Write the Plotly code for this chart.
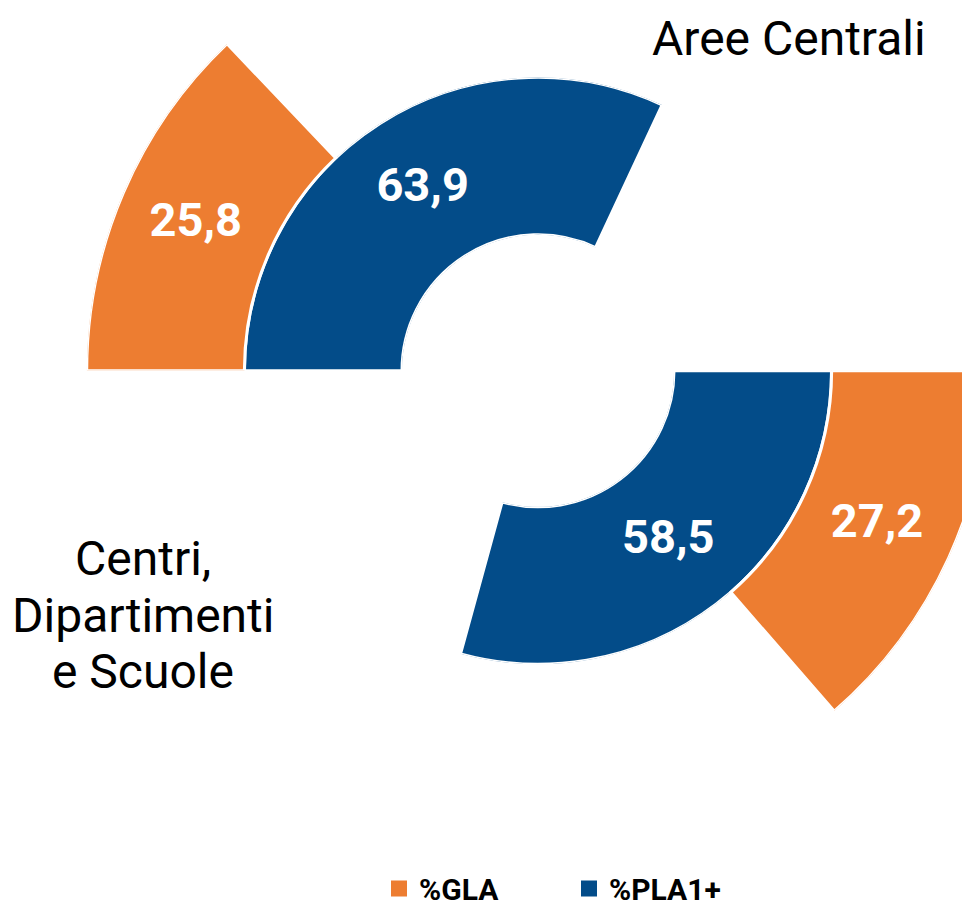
import plotly.graph_objects as go

# ---- data ----
group_title_top = "Aree Centrali"
group_title_bottom = ["Centri,", "Dipartimenti", "e Scuole"]
gla_values = [25.8, 27.2]      # %GLA (orange, outer ring): [Aree Centrali, Centri/Dip./Scuole]
pla_values = [63.9, 58.5]      # %PLA1+ (blue, inner ring)
gla_labels = ["25,8", "27,2"]
pla_labels = ["63,9", "58,5"]
series_names = ["%GLA", "%PLA1+"]

# ---- scale: each group is a half circle = 100 % ----
DEG_PER_PCT = 180.0 / 100.0
group_start = [0.0, 180.0]     # start angle of each group (clockwise from 9 o'clock)

ORANGE = "#ED7D31"
BLUE = "#034C89"
FONT = "Roboto"
LINE = dict(color="white", width=3)

def span(v):
    return v * DEG_PER_PCT

def center(g, v):
    return group_start[g] + span(v) / 2

# ---- geometry (figure pixels) ----
W, H = 1000, 899
cx, cy = 530.0, 362.8
R_HOLE, R_BLUE, R_ORANGE = 136.0, 293.5, 451.3
SIN130 = 0.766044

def dom(x0, x1, y0, y1):
    return dict(x=[x0 / W, x1 / W], y=[1 - y1 / H, 1 - y0 / H])

ang = dict(rotation=180, direction="clockwise", visible=False, showgrid=False)

fig = go.Figure()

# blue ring, both groups
fig.add_trace(go.Barpolar(
    subplot="polar", name=series_names[1], showlegend=False,
    theta=[center(0, pla_values[0]), center(1, pla_values[1])],
    width=[span(pla_values[0]), span(pla_values[1])],
    r=[1, 1], base=[0, 0],
    marker=dict(color=BLUE, line=LINE), hoverinfo="skip",
))
fig.add_trace(go.Scatterpolar(
    subplot="polar", mode="text", showlegend=False, hoverinfo="skip",
    theta=[center(0, pla_values[0]), center(1, pla_values[1])], r=[0.5, 0.5],
    text=pla_labels,
    textfont=dict(family=FONT, size=47, color="white", weight="bold"),
))
# orange ring, Aree Centrali
fig.add_trace(go.Barpolar(
    subplot="polar2", name=series_names[0], showlegend=False,
    theta=[center(0, gla_values[0])], width=[span(gla_values[0])],
    r=[1], base=[1],
    marker=dict(color=ORANGE, line=LINE), hoverinfo="skip",
))
fig.add_trace(go.Scatterpolar(
    subplot="polar2", mode="text", showlegend=False, hoverinfo="skip",
    theta=[center(0, gla_values[0])], r=[1.5], text=[gla_labels[0]],
    textfont=dict(family=FONT, size=47, color="white", weight="bold"),
))
# orange ring, Centri / Dipartimenti / Scuole
fig.add_trace(go.Barpolar(
    subplot="polar3", name=series_names[0], showlegend=False,
    theta=[center(1, gla_values[1])], width=[span(gla_values[1])],
    r=[1], base=[1],
    marker=dict(color=ORANGE, line=LINE), hoverinfo="skip",
))
fig.add_trace(go.Scatterpolar(
    subplot="polar3", mode="text", showlegend=False, hoverinfo="skip",
    theta=[center(1, gla_values[1])], r=[1.5], text=[gla_labels[1]],
    textfont=dict(family=FONT, size=47, color="white", weight="bold"),
))
# legend entries
for nm, col in zip(series_names, [ORANGE, BLUE]):
    fig.add_trace(go.Scatterpolar(
        subplot="polar", name=nm, r=[None], theta=[None], mode="markers",
        marker=dict(symbol="square", size=16, color=col), hoverinfo="skip",
    ))

hidden_r = dict(visible=False, showgrid=False)
fig.update_layout(
    width=W, height=H,
    margin=dict(l=0, r=0, t=0, b=0, autoexpand=False),
    paper_bgcolor="white",
    font=dict(family=FONT, color="black"),
    polar=dict(
        domain=dom(cx - R_BLUE, cx + R_BLUE, cy - R_BLUE, cy + R_BLUE),
        hole=R_HOLE / R_BLUE, bgcolor="rgba(0,0,0,0)",
        radialaxis=dict(range=[0, 1], **hidden_r), angularaxis=ang,
    ),
    polar2=dict(
        domain=dom(cx - R_ORANGE, cx, cy - SIN130 * R_ORANGE, cy),
        sector=[130, 180],
        hole=R_HOLE / R_ORANGE, bgcolor="rgba(0,0,0,0)",
        radialaxis=dict(range=[0, 2], **hidden_r), angularaxis=ang,
    ),
    polar3=dict(
        domain=dom(cx, cx + R_ORANGE, cy, cy + SIN130 * R_ORANGE),
        sector=[-50, 0],
        hole=R_HOLE / R_ORANGE, bgcolor="rgba(0,0,0,0)",
        radialaxis=dict(range=[0, 2], **hidden_r), angularaxis=ang,
    ),
    showlegend=True,
    legend=dict(
        orientation="h", x=371 / W, xanchor="left", y=1 - 880.5 / H, yanchor="middle",
        font=dict(family=FONT, size=30, color="black", weight="bold"),
        entrywidth=145, entrywidthmode="pixels", traceorder="normal",
    ),
    annotations=[
        dict(text=group_title_top, x=781 / W, y=1.0, xref="paper", yref="paper",
             xanchor="center", yanchor="top", showarrow=False,
             font=dict(family=FONT, size=48, color="black")),
    ] + [
        dict(text=t, x=135 / W, y=1 - yy / H, xref="paper", yref="paper",
             xanchor="center", yanchor="middle", showarrow=False,
             font=dict(family=FONT, size=48, color="black"))
        for t, yy in zip(group_title_bottom, [550.5, 607, 663.5])
    ],
)

fig.write_html("out.html")
